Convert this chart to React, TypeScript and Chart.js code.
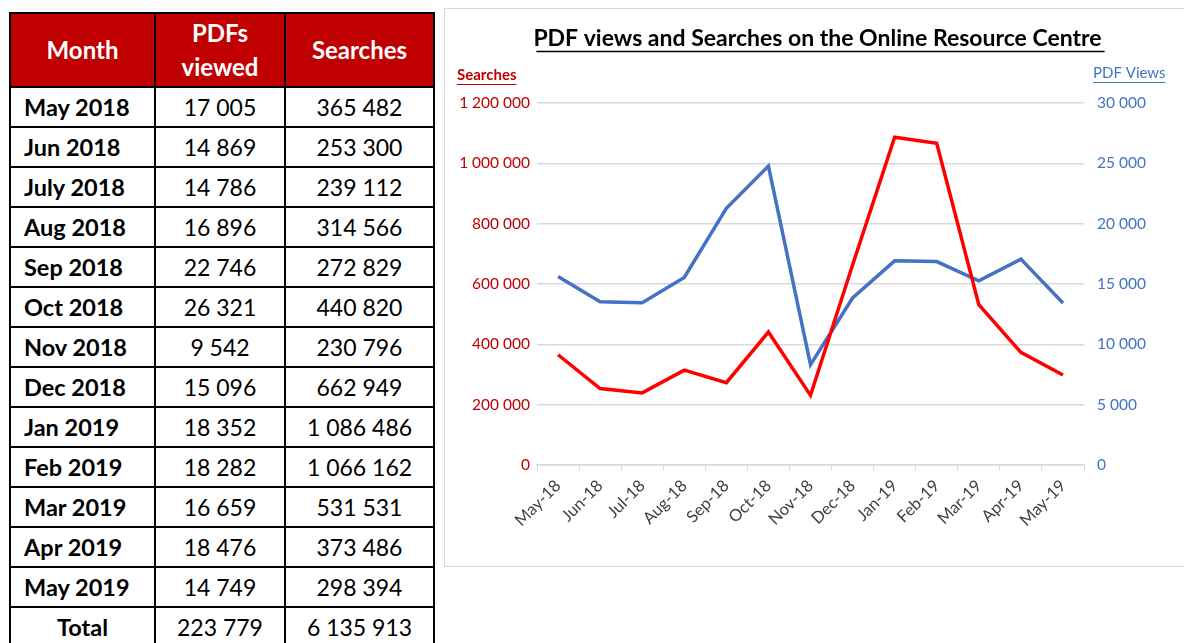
import React, { useEffect, useRef } from "react";
import { Chart, registerables } from "chart.js";

Chart.register(...registerables);

// ---- Table data ----
const tableMonths = [
  "May 2018", "Jun 2018", "July 2018", "Aug 2018", "Sep 2018", "Oct 2018", "Nov 2018",
  "Dec 2018", "Jan 2019", "Feb 2019", "Mar 2019", "Apr 2019", "May 2019",
];
const pdfsViewed = [17005, 14869, 14786, 16896, 22746, 26321, 9542, 15096, 18352, 18282, 16659, 18476, 14749];
const searches = [365482, 253300, 239112, 314566, 272829, 440820, 230796, 662949, 1086486, 1066162, 531531, 373486, 298394];

// ---- Chart data ----
const chartLabels = [
  "May-18", "Jun-18", "Jul-18", "Aug-18", "Sep-18", "Oct-18", "Nov-18",
  "Dec-18", "Jan-19", "Feb-19", "Mar-19", "Apr-19", "May-19",
];
const chartSearches = [365482, 253300, 239112, 314566, 272829, 440820, 230796, 662949, 1086486, 1066162, 531531, 373486, 298394];
const chartPdfViews = [15620, 13530, 13450, 15540, 21270, 24770, 8320, 13840, 16920, 16860, 15260, 17060, 13420];

const chartTitle = "PDF views and Searches on the Online Resource Centre";
const leftAxisTitle = "Searches";
const rightAxisTitle = "PDF Views";

const fmt = (v: number) => String(v).replace(/\B(?=(\d{3})+(?!\d))/g, " ");
const sum = (a: number[]) => a.reduce((s, v) => s + v, 0);

const FONT = "Lato, 'Open Sans', sans-serif";
const RED_TEXT = "#c00000";
const BLUE = "#4472c4";
const TITLE_SIZE = 23;

const decorPlugin = {
  id: "decor",
  afterDraw(chart: any) {
    const ctx = chart.ctx;
    ctx.save();
    const tb = chart.titleBlock;
    if (tb) {
      ctx.font = `bold ${TITLE_SIZE}px ${FONT}`;
      const w = ctx.measureText(chartTitle).width;
      const cx = (tb.left + tb.right) / 2 + 3;
      ctx.strokeStyle = "#000";
      ctx.lineWidth = 1.5;
      ctx.beginPath();
      ctx.moveTo(cx - w / 2, 42.5);
      ctx.lineTo(cx + w / 2, 42.5);
      ctx.stroke();
    }
    ctx.font = `bold 15px ${FONT}`;
    ctx.textBaseline = "middle";
    ctx.textAlign = "left";
    ctx.fillStyle = RED_TEXT;
    ctx.fillText(leftAxisTitle, 12, 66);
    let w = ctx.measureText(leftAxisTitle).width;
    ctx.strokeStyle = RED_TEXT;
    ctx.lineWidth = 1;
    ctx.beginPath();
    ctx.moveTo(12, 75.5);
    ctx.lineTo(12 + w, 75.5);
    ctx.stroke();

    ctx.font = `15px ${FONT}`;
    ctx.fillStyle = BLUE;
    ctx.fillText(rightAxisTitle, 648, 64);
    w = ctx.measureText(rightAxisTitle).width;
    ctx.strokeStyle = BLUE;
    ctx.beginPath();
    ctx.moveTo(648, 73.5);
    ctx.lineTo(648 + w, 73.5);
    ctx.stroke();
    ctx.restore();
  },
};

function LineChart() {
  const ref = useRef<HTMLCanvasElement>(null);
  useEffect(() => {
    if (!ref.current) return;
    const chart = new Chart(ref.current, {
      type: "line",
      data: {
        labels: chartLabels,
        datasets: [
          {
            label: "Searches",
            data: chartSearches,
            yAxisID: "yL",
            borderColor: "#ff0000",
            backgroundColor: "#ff0000",
            borderWidth: 3.5,
            pointRadius: 0,
            tension: 0,
          },
          {
            label: "PDF Views",
            data: chartPdfViews,
            yAxisID: "yR",
            borderColor: BLUE,
            backgroundColor: BLUE,
            borderWidth: 3.5,
            pointRadius: 0,
            tension: 0,
          },
        ],
      },
      options: {
        responsive: false,
        animation: false,
        layout: { padding: { top: 0, left: 6, right: 0, bottom: 0 } },
        plugins: {
          legend: { display: false },
          tooltip: { enabled: false },
          title: {
            display: true,
            text: chartTitle,
            color: "#000",
            font: { family: FONT, size: TITLE_SIZE, weight: "bold", lineHeight: 1.2 },
            padding: { top: 16, bottom: 50.4 },
          },
        },
        scales: {
          x: {
            type: "category",
            offset: true,
            grid: {
              display: true,
              drawOnChartArea: false,
              drawTicks: true,
              tickLength: 6,
              color: "#d9d9d9",
              offset: true,
            },
            border: { display: true, color: "#d9d9d9", width: 1.5 },
            ticks: {
              autoSkip: false,
              minRotation: 45,
              maxRotation: 45,
              color: "#404040",
              font: { family: FONT, size: 16.5 },
              padding: 5,
            },
            afterFit: (s: any) => {
              s.height = 101;
            },
          },
          yL: {
            position: "left",
            min: 0,
            max: 1200000,
            ticks: {
              stepSize: 200000,
              color: RED_TEXT,
              font: { family: FONT, size: 15.5 },
              padding: 7,
              callback: (v: any) => fmt(Number(v)),
            },
            grid: { color: "#d9d9d9", lineWidth: 1.5, drawTicks: false },
            border: { display: false },
            afterFit: (s: any) => {
              s.width = 86;
            },
          },
          yR: {
            position: "right",
            min: 0,
            max: 30000,
            ticks: {
              stepSize: 5000,
              color: BLUE,
              font: { family: FONT, size: 15.5 },
              padding: 13,
              callback: (v: any) => fmt(Number(v)),
            },
            grid: { drawOnChartArea: false, drawTicks: false },
            border: { display: false },
            afterFit: (s: any) => {
              s.width = 100;
            },
          },
        },
      },
      plugins: [decorPlugin],
    });
    return () => chart.destroy();
  }, []);
  return <canvas ref={ref} width={739} height={557} style={{ display: "block", width: 739, height: 557 }} />;
}

const cellBorder = "2px solid #000";

export default function App() {
  const thStyle: React.CSSProperties = {
    background: "#c00000",
    color: "#fff",
    fontWeight: 700,
    fontSize: 24,
    lineHeight: "34px",
    border: cellBorder,
    textAlign: "center",
    padding: 0,
  };
  const tdNum: React.CSSProperties = {
    border: cellBorder,
    textAlign: "center",
    fontSize: 23,
    padding: 0,
    color: "#000",
  };
  const tdMonth: React.CSSProperties = {
    border: cellBorder,
    textAlign: "left",
    fontSize: 23.5,
    fontWeight: 700,
    padding: "0 0 0 13px",
    color: "#000",
  };
  return (
    <div
      style={{
        position: "fixed",
        left: 0,
        top: 0,
        width: 1184,
        height: 643,
        background: "#fff",
        overflow: "hidden",
        fontFamily: FONT,
      }}
    >
      <table
        style={{
          position: "absolute",
          left: 9,
          top: 12,
          borderCollapse: "collapse",
          tableLayout: "fixed",
          width: 424,
        }}
      >
        <colgroup>
          <col style={{ width: 145 }} />
          <col style={{ width: 130 }} />
          <col style={{ width: 149 }} />
        </colgroup>
        <thead>
          <tr style={{ height: 74 }}>
            <th style={thStyle}>Month</th>
            <th style={thStyle}>
              PDFs
              <br />
              viewed
            </th>
            <th style={thStyle}>Searches</th>
          </tr>
        </thead>
        <tbody>
          {tableMonths.map((m, i) => (
            <tr key={m} style={{ height: 40 }}>
              <td style={tdMonth}>{m}</td>
              <td style={tdNum}>{fmt(pdfsViewed[i])}</td>
              <td style={tdNum}>{fmt(searches[i])}</td>
            </tr>
          ))}
          <tr style={{ height: 40 }}>
            <td style={{ ...tdMonth, textAlign: "center", padding: 0 }}>Total</td>
            <td style={tdNum}>{fmt(sum(pdfsViewed))}</td>
            <td style={tdNum}>{fmt(sum(searches))}</td>
          </tr>
        </tbody>
      </table>
      <div
        style={{
          position: "absolute",
          left: 444,
          top: 8,
          width: 760,
          height: 557,
          border: "1px solid #d9d9d9",
        }}
      >
        <LineChart />
      </div>
    </div>
  );
}
